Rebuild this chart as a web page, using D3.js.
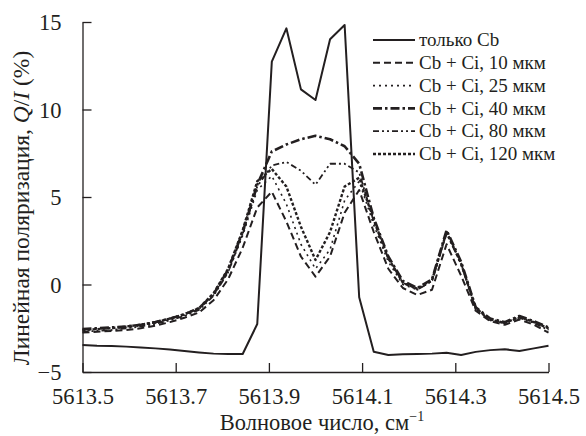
<!DOCTYPE html>
<html><head><meta charset="utf-8">
<script src="https://cdn.jsdelivr.net/npm/d3@7"></script>
<style>body{margin:0;background:#fff}svg{display:block}text{font-family:"Liberation Serif","Times New Roman",serif;fill:#231f20}</style>
</head><body><svg id="c" width="586" height="436"></svg>
<script>
const wavenumbers = d3.range(33).map(i => 5613.5 + i * 0.03125);
const onlyCb   = [-3.46,-3.5,-3.52,-3.55,-3.6,-3.65,-3.72,-3.8,-3.88,-3.95,-3.97,-3.97,-2.26,12.73,14.64,11.15,10.54,14.01,14.83,-0.73,-3.84,-4.03,-3.98,-3.97,-3.95,-3.9,-4.03,-3.85,-3.75,-3.7,-3.8,-3.65,-3.5];
const ci10  = [-2.75,-2.7,-2.65,-2.6,-2.5,-2.35,-2.15,-1.9,-1.6,-0.9,0.3,2.1,4.4,5.3,3.6,1.6,0.45,1.6,4.1,5.4,3.0,0.9,-0.2,-0.6,-0.3,2.3,0.5,-1.5,-2.1,-2.3,-2.0,-2.3,-2.75];
const ci25  = [-2.6,-2.55,-2.5,-2.45,-2.35,-2.2,-2.0,-1.75,-1.4,-0.6,0.7,2.8,5.4,6.2,4.6,2.3,0.9,2.0,4.8,5.9,3.4,1.3,0.0,-0.3,0.2,3.0,1.1,-1.4,-2.0,-2.2,-1.85,-2.15,-2.55];
const ci40  = [-2.55,-2.5,-2.45,-2.4,-2.3,-2.15,-1.95,-1.7,-1.35,-0.55,0.85,3.0,5.7,7.6,8.0,8.3,8.5,8.3,7.9,6.9,3.8,1.6,0.2,-0.2,0.3,3.1,1.3,-1.3,-1.95,-2.15,-1.8,-2.1,-2.45];
const ci80  = [-2.7,-2.65,-2.6,-2.5,-2.4,-2.25,-2.05,-1.8,-1.45,-0.65,0.7,2.9,5.6,6.8,7.0,6.5,5.7,6.9,6.9,6.4,3.6,1.5,0.1,-0.3,0.2,2.9,1.2,-1.4,-2.05,-2.2,-1.9,-2.2,-2.6];
const ci120 = [-2.6,-2.55,-2.5,-2.4,-2.3,-2.15,-1.95,-1.7,-1.35,-0.5,0.9,3.1,5.9,6.6,5.6,3.3,1.4,3.0,5.6,6.1,3.7,1.5,0.1,-0.25,0.25,3.0,1.2,-1.35,-2.0,-2.2,-1.85,-2.15,-2.5];
const seriesNames = ["только Cb","Cb + Ci, 10 мкм","Cb + Ci, 25 мкм","Cb + Ci, 40 мкм","Cb + Ci, 80 мкм","Cb + Ci, 120 мкм"];
const seriesValues = [onlyCb, ci10, ci25, ci40, ci80, ci120];
const xTicks = [5613.5,5613.7,5613.9,5614.1,5614.3,5614.5];
const yTicks = [15,10,5,0,-5];

const styles = [
  {w:2, dash:null},
  {w:2, dash:"7,4"},
  {w:1.6, dash:"2,4"},
  {w:2.6, dash:"9,3,2.5,3"},
  {w:1.8, dash:"6,3,2,3,2,3"},
  {w:2.4, dash:"3,2"}
];

const svg = d3.select("#c");
const ink = "#231f20";
const x = d3.scaleLinear().domain([5613.5,5614.5]).range([82.5,548.5]);
const y = d3.scaleLinear().domain([-5,15]).range([372,22]);

// axes
const xa = svg.append("g").attr("transform","translate(0,372)")
  .call(d3.axisBottom(x).tickValues(xTicks).tickSizeInner(-9).tickSizeOuter(0).tickPadding(16).tickFormat(d3.format(".1f")));
const ya = svg.append("g").attr("transform","translate(82.5,0)")
  .call(d3.axisLeft(y).tickValues(yTicks).tickSizeInner(-9).tickSizeOuter(0).tickPadding(21).tickFormat(d => d < 0 ? "−" + Math.abs(d) : d));
[xa, ya].forEach(g => {
  g.select(".domain").attr("stroke", ink).attr("stroke-width", 1.3);
  g.selectAll(".tick line").attr("stroke", ink).attr("stroke-width", 1.3);
  g.selectAll(".tick text").attr("font-size", 22.5).attr("font-family","Liberation Serif").attr("fill", ink);
});
ya.selectAll(".tick text").attr("dy","0.34em");

// lines
const line = d3.line().x((d,i) => x(wavenumbers[i])).y(d => y(d));
seriesValues.forEach((vals, k) => {
  svg.append("path").datum(vals).attr("d", line)
    .attr("fill","none").attr("stroke", ink)
    .attr("stroke-width", styles[k].w)
    .attr("stroke-dasharray", styles[k].dash)
    .attr("stroke-linejoin","round");
});

// legend
const lg = svg.append("g");
seriesNames.forEach((name, k) => {
  const yy = 40 + k * 22.8;
  lg.append("line").attr("x1",373).attr("x2",415).attr("y1",yy).attr("y2",yy)
    .attr("stroke", ink).attr("stroke-width", styles[k].w).attr("stroke-dasharray", styles[k].dash);
  lg.append("text").attr("x",419).attr("y",yy).attr("dy","0.33em").attr("font-size",19).text(name);
});

// x title
const xt = svg.append("text").attr("x",322).attr("y",430).attr("text-anchor","middle").attr("font-size",22.5);
xt.append("tspan").text("Волновое число, см");
xt.append("tspan").attr("dy",-9).attr("font-size",14).text("−1");

// y title
const yt = svg.append("text").attr("transform","translate(29,208) rotate(-90)").attr("text-anchor","middle").attr("font-size",23.5);
yt.append("tspan").text("Линейная поляризация, ");
yt.append("tspan").attr("font-style","italic").text("Q");
yt.append("tspan").text("/");
yt.append("tspan").attr("font-style","italic").text("I");
yt.append("tspan").text(" (%)");
</script></body></html>
